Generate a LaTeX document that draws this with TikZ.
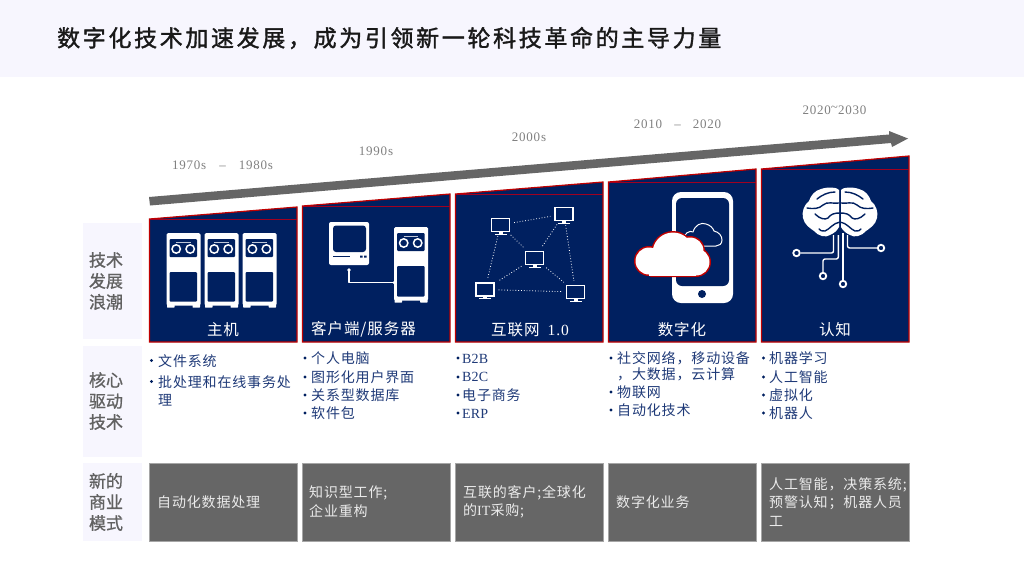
\documentclass[tikz,border=0pt]{standalone}
\usepackage{fontspec}
\setmainfont{Noto Sans CJK SC}
\newfontfamily\titlefont[LetterSpace=11.5,FakeBold=1.5]{Noto Sans CJK SC}
\newfontfamily\bodyfont[LetterSpace=6]{Noto Sans CJK SC}
\newfontfamily\sidefont[FakeBold=1]{Noto Sans CJK SC}
\newfontfamily\latfont[LetterSpace=1]{Liberation Serif}
\newfontfamily\yearfont[LetterSpace=6]{Liberation Serif}
\newcommand{\lat}[1]{{\latfont #1}}
\definecolor{navy}{HTML}{002060}
\definecolor{wred}{HTML}{C00000}
\definecolor{wrule}{HTML}{A00020}
\definecolor{band}{HTML}{F7F6FE}
\definecolor{boxgray}{HTML}{666666}
\definecolor{boxedge}{HTML}{A6A6A6}
\definecolor{bodyblue}{HTML}{1F3A78}
\tikzset{
  x=1pt,y=-1pt,
  panelbox/.style={fill=navy,draw=wred,line width=1.2pt,line join=miter},
  panelrule/.style={draw=wrule,line width=0.8pt},
  paneltitle/.style={text=white,font=\fontsize{15.5}{15.5}\bodyfont,inner sep=0pt,anchor=center},
  yearlabel/.style={text=black!50,font=\fontsize{13}{13}\yearfont,inner sep=0pt,anchor=center},
  sidebox/.style={fill=band,draw=none,inner sep=0pt,outer sep=0pt,anchor=north west},
  sidetext/.style={text=black!62,font=\fontsize{17}{21}\sidefont,align=center,inner sep=0pt,anchor=center},
  listtext/.style={text=bodyblue,font=\fontsize{14}{14}\bodyfont,inner sep=0pt,anchor=west},
  modelbox/.style={fill=boxgray,draw=boxedge,line width=0.7pt,minimum width=147.5pt,minimum height=78pt,inner sep=0pt,outer sep=0pt,anchor=north west},
  modeltext/.style={text=white!92!black,font=\fontsize{14}{14}\bodyfont,inner sep=0pt,anchor=west},
  monitorbox/.style={draw=white,fill=navy,line width=1.3pt,minimum width=18pt,minimum height=13pt,inner sep=0pt,anchor=center},
  netlink/.style={draw=white,line width=0.8pt,dotted,shorten >=4pt,shorten <=4pt},
  wire/.style={draw=white,line width=1.4pt,line join=round},
  ring/.style={draw=white,fill=navy,line width=1.8pt,circle,minimum size=6.5pt,inner sep=0pt},
  sulcus/.style={draw=navy,line width=1.4pt,line cap=round},
}
\newcommand{\bul}[3]{\fill[navy] (#1,#2) circle (1.7pt);}
\newcommand{\tapeserver}[4]{% x, y top, height of body, lower window top
  \fill[white,rounded corners=1.5pt] (#1,#2) rectangle (#1+34,#2+#3-2);
  \fill[white,rounded corners=0.5pt] (#1+0.5,#2+#3-4) rectangle (#1+8,#2+#3);
  \fill[white,rounded corners=0.5pt] (#1+26,#2+#3-4) rectangle (#1+33.5,#2+#3);
  \fill[navy,rounded corners=1pt] (#1+3,#2+6) rectangle (#1+30.5,#2+24);
  \draw[white!75!navy,line width=1pt] (#1+9.5,#2+9.7) -- (#1+24,#2+9.7);
  \draw[white,line width=1.5pt] (#1+9.7,#2+16) circle (4.2pt) (#1+23.7,#2+16) circle (4.2pt);
  \fill[navy,rounded corners=1pt] (#1+3,#4) rectangle (#1+30.5,#2+#3-6);
}
\newcommand{\monicon}[3]{% name, x, y
  \node[monitorbox] (#1) at (#2,#3) {};
  \fill[white] (#2-2,#3+7) rectangle (#2+2,#3+8.5);
  \fill[white] (#2-6,#3+8.5) rectangle (#2+6,#3+9.5);
}
\begin{document}
\begin{tikzpicture}
\useasboundingbox (0,0) rectangle (1024,576);
\fill[white] (0,0) rectangle (1024,576);
\fill[band] (0,0) rectangle (1024,77);
\node[inner sep=0pt,anchor=west,text=black!90,font=\fontsize{23}{23}\titlefont] (title) at (57,38) {数字化技术加速发展，成为引领新一轮科技革命的主导力量};

% rising arrow
\fill[black!60] (149,197) -- (889,134.5) -- (889,131) -- (908,138.5) -- (892,147) -- (891,143) -- (150,205.5) -- cycle;

% year labels
\node[yearlabel] (y1) at (222.5,165) {1970s\hspace{13pt}–\hspace{13pt}1980s};
\node[yearlabel] (y2) at (376,151) {1990s};
\node[yearlabel] (y3) at (529,137) {2000s};
\node[yearlabel] (y4) at (677.5,124) {2010\hspace{12pt}–\hspace{12pt}2020};
\node[yearlabel] (y5) at (834.5,110) {2020\raisebox{3pt}{\textasciitilde}2030};

% panels
\draw[panelbox] (149.5,219) -- (297,207) -- (297,342) -- (149.5,342) -- cycle;
\draw[panelrule] (149.5,219) -- (297,219);
\draw[panelbox] (302.5,206) -- (450,194) -- (450,342) -- (302.5,342) -- cycle;
\draw[panelrule] (302.5,206) -- (450,206);
\draw[panelbox] (455.5,194) -- (603,182) -- (603,342) -- (455.5,342) -- cycle;
\draw[panelrule] (455.5,194) -- (603,194);
\draw[panelbox] (608.5,182) -- (756,169) -- (756,342) -- (608.5,342) -- cycle;
\draw[panelrule] (608.5,182) -- (756,182);
\draw[panelbox] (761.5,169) -- (909,156) -- (909,342) -- (761.5,342) -- cycle;
\draw[panelrule] (761.5,169) -- (909,169);

\node[paneltitle] (p1) at (223,329.5) {主机};
\node[paneltitle] (p2) at (363.5,329.5) {客户端/服务器};
\node[paneltitle] (p3) at (530,329.5) {互联网\hspace{8pt}{\yearfont 1.0}};
\node[paneltitle] (p4) at (682,329.5) {数字化};
\node[paneltitle] (p5) at (835,329.5) {认知};

% icon 1
\tapeserver{166.5}{233}{74.5}{272}
\tapeserver{204.5}{233}{74.5}{272}
\tapeserver{242.7}{233}{74.5}{272}

% icon 2
\fill[white,rounded corners=2pt] (329,222) rectangle (369,265);
\fill[navy,rounded corners=3pt] (333,225.5) rectangle (366,252);
\fill[navy] (333,255.5) rectangle (350,256.7);
\fill[navy] (360,255.5) rectangle (362.5,257.5) (364,255.5) rectangle (366.5,257.5);
\tapeserver{394}{227}{75.5}{266}
\coordinate (wa) at (349,270);
\coordinate (wb) at (394,282.5);
\draw[wire] (wa) |- (wb);
\fill[white] (wa) circle (1.8pt) (wb) circle (1.5pt);

% icon 3
\monicon{m1}{500.5}{225}
\monicon{m2}{564}{214}
\monicon{m3}{534.5}{258}
\monicon{m4}{485}{289.5}
\monicon{m5}{575.5}{292}
\draw[netlink] (m1) -- (m2);
\draw[netlink] (m1) -- (m3);
\draw[netlink] (m1) -- (m4);
\draw[netlink] (m2) -- (m3);
\draw[netlink] (m2) -- (m5);
\draw[netlink] (m3) -- (m4);
\draw[netlink] (m3) -- (m5);
\draw[netlink] (m4) -- (m5);

% icon 4
\fill[white,rounded corners=9pt] (672,192) rectangle (733,303);
\fill[navy,rounded corners=6pt] (676,198) rectangle (729,286);
\fill[navy] (702,294) circle (4pt);
\draw[white,line width=1pt,line join=round] (683,240) .. controls (684,233) and (690,230) .. (693,232) .. controls (695,225) and (701,222) .. (706,224) .. controls (710,225) and (713,228) .. (714,231) .. controls (719,232) and (722,236) .. (722,240) .. controls (722,244) and (719,246) .. (716,246) -- (695,246);
\fill[wred] (649,261) circle (15pt) (673,253) circle (22pt) (690,251) circle (15pt) (696,262) circle (15pt);
\fill[wred,rounded corners=2pt] (649,262) rectangle (696,277);
\fill[white] (649,261) circle (13.5pt) (673,253) circle (20.5pt) (690,251) circle (13.5pt) (696,262) circle (13.5pt);
\fill[white] (649,262) rectangle (696,275.5);

% icon 5
\foreach \s in {1,-1}{
  \begin{scope}[shift={(840,0)},xscale=\s]
    \fill[white] (1,190) .. controls (2,187.5) and (12,186.5) .. (19,189) .. controls (25,190.5) and (29,195) .. (31,201) .. controls (36,205) and (38.5,212) .. (37,218) .. controls (35.5,225) and (30,228) .. (26,231) .. controls (22,236) and (14,238) .. (10,235) .. controls (6,233) and (3,231) .. (1,227) -- cycle;
    \draw[sulcus] (5,192) .. controls (12,192) and (18,195) .. (23,199);
    \draw[sulcus] (1,203) .. controls (6,204) and (13,201) .. (17,205) .. controls (21,209) and (27,209) .. (33,208);
    \draw[sulcus] (0,213) .. controls (6,213) and (9,214) .. (12,218) .. controls (15,220) and (20,219) .. (25,214);
    \draw[sulcus] (0,222) .. controls (7,223) and (10,229) .. (15,231) .. controls (18,232) and (20,230) .. (21,229);
  \end{scope}
}
\node[ring] (r1) at (796.5,253) {};
\node[ring] (r2) at (823,276) {};
\node[ring] (r3) at (843,284) {};
\node[ring] (r4) at (881,248) {};
\coordinate (b1) at (833.5,235);
\coordinate (b2) at (838.3,235);
\coordinate (b3) at (843,233);
\coordinate (b4) at (847.5,235);
\coordinate (b2k) at (838.3,259);
\coordinate (b2j) at (823,259);
\draw[wire,rounded corners=2pt] (b1) |- (r1);
\draw[wire,rounded corners=2pt] (b2) -- (b2k) -- (b2j) -- (r2);
\draw[wire] (b3) -- (r3);
\draw[wire,rounded corners=2pt] (b4) |- (r4);

% side labels
\node[sidebox,minimum width=59pt,minimum height=116pt] (s1) at (83,223) {};
\node[sidebox,minimum width=59pt,minimum height=111pt] (s2) at (83,346) {};
\node[sidebox,minimum width=59pt,minimum height=78pt] (s3) at (83,463) {};
\node[sidetext] (s1t) at (106,281) {技术\\发展\\浪潮};
\node[sidetext] (s2t) at (106,401) {核心\\驱动\\技术};
\node[sidetext] (s3t) at (106,502) {新的\\商业\\模式};

% bullets
\bul{151.5}{360.5}{}\node[listtext] (a1) at (158,361) {文件系统};
\bul{151.5}{381.5}{}\node[listtext] (a2) at (158,382) {批处理和在线事务处};
\node[listtext] (a3) at (158,400) {理};
\bul{305}{358}{}\node[listtext] (b11) at (311,358.5) {个人电脑};
\bul{305}{377}{}\node[listtext] (b12) at (311,377) {图形化用户界面};
\bul{305}{395}{}\node[listtext] (b13) at (311,395.5) {关系型数据库};
\bul{305}{413}{}\node[listtext] (b14) at (311,413.5) {软件包};
\bul{458}{358}{}\node[listtext] (c1) at (462,358.5) {\lat{B2B}};
\bul{458}{377}{}\node[listtext] (c2) at (462,377) {\lat{B2C}};
\bul{458}{395}{}\node[listtext] (c3) at (462,395.5) {电子商务};
\bul{458}{413}{}\node[listtext] (c4) at (462,413.5) {\lat{ERP}};
\bul{611}{358}{}\node[listtext] (d1) at (617,358.5) {社交网络，移动设备};
\node[listtext] (d2) at (617,374.5) {，大数据，云计算};
\bul{611}{392}{}\node[listtext] (d3) at (617,392.5) {物联网};
\bul{611}{410}{}\node[listtext] (d4) at (617,410.5) {自动化技术};
\bul{763.5}{358}{}\node[listtext] (e1) at (769,358.5) {机器学习};
\bul{763.5}{377}{}\node[listtext] (e2) at (769,377) {人工智能};
\bul{763.5}{395}{}\node[listtext] (e3) at (769,395.5) {虚拟化};
\bul{763.5}{413}{}\node[listtext] (e4) at (769,413.5) {机器人};

% business model boxes
\node[modelbox] (q1) at (149.5,463) {};
\node[modelbox] (q2) at (302.5,463) {};
\node[modelbox] (q3) at (455.5,463) {};
\node[modelbox] (q4) at (608.5,463) {};
\node[modelbox] (q5) at (761.5,463) {};
\node[modeltext] (t1) at (157,502) {自动化数据处理};
\node[modeltext] (t2a) at (309,493) {知识型工作;};
\node[modeltext] (t2b) at (309,511) {企业重构};
\node[modeltext] (t3a) at (463,493) {互联的客户;全球化};
\node[modeltext] (t3b) at (463,511) {的\lat{IT}采购;};
\node[modeltext] (t4) at (616,502) {数字化业务};
\node[modeltext] (t5a) at (769,485) {人工智能，决策系统;};
\node[modeltext] (t5b) at (769,503) {预警认知；机器人员};
\node[modeltext] (t5c) at (769,521) {工};
\end{tikzpicture}
\end{document}
